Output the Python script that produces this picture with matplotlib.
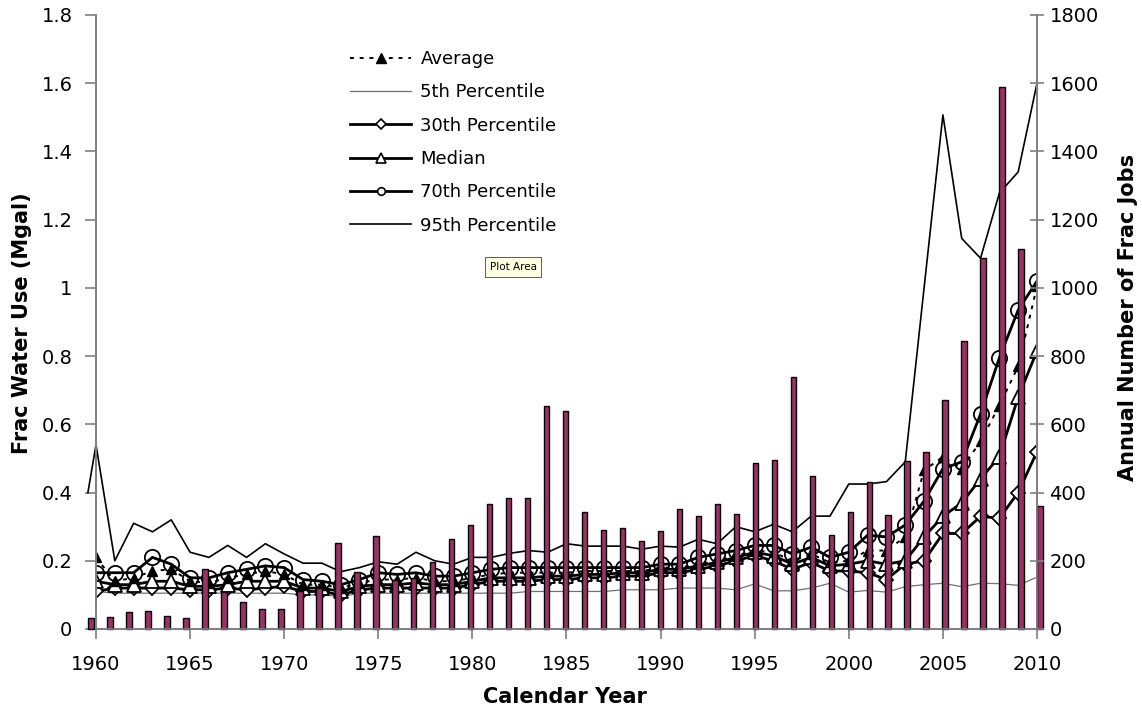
import numpy as np
import matplotlib.pyplot as plt
from matplotlib.lines import Line2D

plt.rcParams['font.family'] = ['DejaVu Sans']

# calendar years on the x axis
years = np.arange(1960, 2011)

# annual number of frac jobs (right axis, bars)
jobs = [32, 36, 51, 54, 39, 33, 176, 109, 80, 59,
        59, 111, 119, 253, 166, 273, 143, 150, 195, 265,
        305, 365, 385, 385, 653, 638, 342, 290, 297, 259,
        287, 351, 331, 367, 337, 488, 494, 738, 450, 275,
        344, 432, 334, 492, 518, 672, 844, 1087, 1588, 1114, 361]

# frac water use statistics (left axis, Mgal)
avg = [0.21, 0.14, 0.15, 0.17, 0.175, 0.14, 0.135, 0.15, 0.16, 0.17,
       0.16, 0.13, 0.13, 0.12, 0.135, 0.145, 0.145, 0.15, 0.14, 0.14,
       0.15, 0.16, 0.165, 0.165, 0.165, 0.165, 0.17, 0.17, 0.17, 0.17,
       0.18, 0.18, 0.19, 0.20, 0.215, 0.23, 0.225, 0.20, 0.22, 0.195,
       0.20, 0.23, 0.23, 0.27, 0.465, 0.505, 0.47, 0.55, 0.655, 0.77, 1.005]
p05 = [0.11, 0.105, 0.105, 0.105, 0.105, 0.105, 0.105, 0.105, 0.105, 0.105,
       0.105, 0.10, 0.10, 0.095, 0.105, 0.105, 0.105, 0.105, 0.105, 0.105,
       0.105, 0.105, 0.105, 0.11, 0.11, 0.11, 0.11, 0.11, 0.115, 0.115,
       0.115, 0.12, 0.12, 0.12, 0.115, 0.132, 0.112, 0.112, 0.12, 0.134,
       0.108, 0.113, 0.108, 0.124, 0.13, 0.134, 0.124, 0.134, 0.133, 0.128, 0.152]
p30 = [0.11, 0.12, 0.12, 0.12, 0.12, 0.115, 0.115, 0.12, 0.115, 0.12,
       0.125, 0.11, 0.11, 0.10, 0.115, 0.12, 0.12, 0.12, 0.12, 0.12,
       0.13, 0.14, 0.14, 0.14, 0.145, 0.145, 0.15, 0.15, 0.155, 0.155,
       0.165, 0.165, 0.175, 0.185, 0.20, 0.215, 0.20, 0.175, 0.195, 0.17,
       0.17, 0.165, 0.145, 0.19, 0.20, 0.28, 0.28, 0.33, 0.325, 0.40, 0.52]
med = [0.14, 0.13, 0.13, 0.14, 0.14, 0.125, 0.125, 0.13, 0.14, 0.14,
       0.14, 0.12, 0.12, 0.11, 0.125, 0.13, 0.13, 0.135, 0.13, 0.13,
       0.14, 0.15, 0.15, 0.15, 0.155, 0.155, 0.16, 0.16, 0.165, 0.165,
       0.175, 0.175, 0.185, 0.195, 0.21, 0.225, 0.215, 0.19, 0.21, 0.185,
       0.19, 0.20, 0.19, 0.20, 0.27, 0.33, 0.37, 0.44, 0.505, 0.68, 0.815]
p70 = [0.165, 0.165, 0.165, 0.21, 0.19, 0.15, 0.15, 0.165, 0.175, 0.185,
       0.18, 0.145, 0.14, 0.13, 0.145, 0.165, 0.16, 0.165, 0.155, 0.155,
       0.165, 0.175, 0.18, 0.18, 0.18, 0.18, 0.18, 0.18, 0.18, 0.18,
       0.19, 0.19, 0.21, 0.22, 0.23, 0.245, 0.245, 0.22, 0.24, 0.21,
       0.225, 0.275, 0.27, 0.305, 0.375, 0.47, 0.49, 0.63, 0.795, 0.935, 1.02]
p95 = [0.54, 0.20, 0.31, 0.285, 0.32, 0.225, 0.21, 0.245, 0.21, 0.25,
       0.22, 0.193, 0.193, 0.168, 0.18, 0.197, 0.19, 0.225, 0.20, 0.19,
       0.21, 0.21, 0.222, 0.23, 0.225, 0.25, 0.243, 0.243, 0.243, 0.234,
       0.243, 0.24, 0.263, 0.25, 0.30, 0.285, 0.307, 0.285, 0.331, 0.331,
       0.425, 0.425, 0.432, 0.49, 1.0, 1.507, 1.145, 1.087, 1.278, 1.34, 1.60]
# the 95th percentile line starts a little left of the axis
p95_lead_year = 1959.57
p95_lead = 0.40

fig = plt.figure(figsize=(11.42, 7.15), dpi=100)
ax = fig.add_axes([96 / 1142, 1 - 629 / 715, 941 / 1142, 614 / 715])
ax2 = ax.twinx()

ax.plot(years, p05, color='#707070', lw=0.9)
ax.plot(np.r_[p95_lead_year, years], np.r_[p95_lead, p95], color='black', lw=1.2,
        clip_on=False)
ax.plot(years, p30, color='black', lw=2, marker='D', ms=7.5, mfc='white', mew=1.3)
ax.plot(years, med, color='black', lw=2, marker='^', ms=10, mfc='white', mew=1.3)
ax.plot(years, p70, color='black', lw=2, marker='o', ms=11, mfc='none', mew=1.3)
ax.plot(years, avg, color='black', lw=1.4, ls=(0, (2, 3)), marker='^', ms=7, mfc='black')

# bars sit on a slightly wider category scale than the lines
bar_x = np.linspace(1959.73, 2010.17, len(years))
ax2.bar(bar_x, jobs, width=0.3, color='#993366', edgecolor='black', lw=1.0, clip_on=False)

ax.set_xlim(1960, 2010)
ax.set_ylim(0, 1.8)
ax2.set_ylim(0, 1800)
ax.set_xticks(np.arange(1960, 2011, 5))
ax.set_yticks(np.arange(0, 1.81, 0.2))
ax.set_yticklabels([f"{v:g}" for v in np.round(np.arange(0, 1.81, 0.2), 1)])
ax2.set_yticks(np.arange(0, 1801, 200))

gray = '#7f7f7f'
for a in (ax, ax2):
    a.spines['top'].set_visible(False)
    for s in ('left', 'right', 'bottom'):
        a.spines[s].set_color(gray)
        a.spines[s].set_linewidth(1.2)
ax.tick_params(axis='y', direction='out', length=8, width=1.2, color=gray, pad=9, labelsize=14)
ax.tick_params(axis='x', direction='out', length=7, width=1.2, color=gray, pad=12, labelsize=14)
ax2.tick_params(axis='y', direction='inout', length=10, width=1.2, color=gray, pad=4, labelsize=14)

ax.set_xlabel("Calendar Year", fontsize=15, fontweight='bold')
ax.set_ylabel("Frac Water Use (Mgal)", fontsize=15, fontweight='bold')
ax2.set_ylabel("Annual Number of Frac Jobs", fontsize=15, fontweight='bold', rotation=90)
ax.xaxis.set_label_coords(0.498, -0.094)
ax.yaxis.set_label_coords(-0.068, 0.498)
ax2.yaxis.set_label_coords(1.086, 0.508)

handles = [
    Line2D([], [], color='black', lw=1.4, ls=(0, (2, 3)), marker='^', ms=7, mfc='black'),
    Line2D([], [], color='#707070', lw=0.9),
    Line2D([], [], color='black', lw=2, marker='D', ms=5.5, mfc='white', mew=1.2),
    Line2D([], [], color='black', lw=2, marker='^', ms=6.5, mfc='white', mew=1.2),
    Line2D([], [], color='black', lw=2, marker='o', ms=5.5, mfc='white', mew=1.2),
    Line2D([], [], color='black', lw=1.2),
]
labels = ["Average", "5th Percentile", "30th Percentile", "Median",
          "70th Percentile", "95th Percentile"]
leg = ax2.legend(handles, labels, loc='upper left', bbox_to_anchor=(350 / 1142, 1 - 50 / 715),
                 bbox_transform=fig.transFigure, frameon=False, fontsize=13,
                 handlelength=3.4, handletextpad=0.5, labelspacing=0.85,
                 borderaxespad=0, borderpad=0)

fig.text(513 / 1142, 1 - 267 / 715, "Plot Area", fontsize=7.5, ha='center', va='center',
         bbox=dict(boxstyle='square,pad=0.45', fc='#ffffe1', ec='#404040', lw=0.6))

fig.savefig("out.png", dpi=100)
